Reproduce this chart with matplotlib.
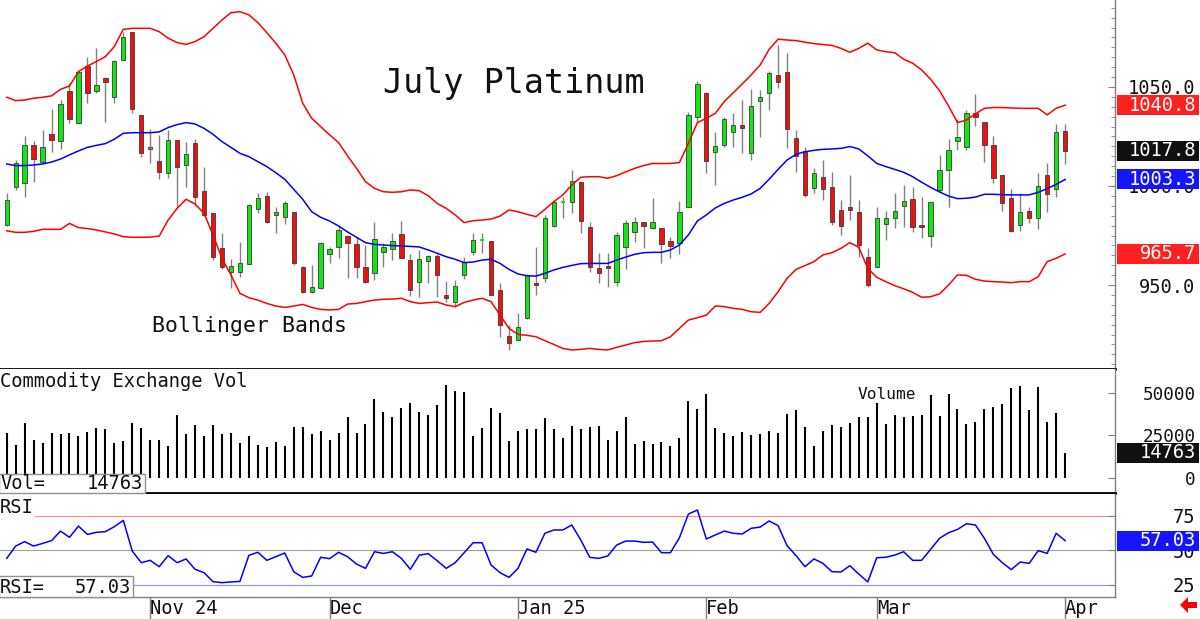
import numpy as np
import matplotlib
matplotlib.use("Agg")
import matplotlib.pyplot as plt
from matplotlib.patches import Rectangle, Polygon
from matplotlib.ticker import MultipleLocator, FixedLocator, FixedFormatter

# ---------------- data (daily, Oct 10 2024 .. Apr 1 2025) ----------------
opens = [980.3, 999.7, 1001.3, 1020.7, 1012.3, 1026.1, 1022.9, 1048.1, 1031.6, 1060.6,
         1048.1, 1054.5, 1045.1, 1063.6, 1077.6, 1035.9, 1018.9, 1012.5, 1006.4, 1023.2,
         1010.6, 1021.5, 997.6, 986.2, 968.9, 956.4, 956.7, 960.6, 988.2, 995.1,
         985.4, 984.2, 986.7, 959.3, 946.3, 948.3, 965.7, 969.4, 974.7, 970.5,
         959.3, 955.9, 966.5, 968.0, 975.6, 962.6, 951.7, 962.3, 964.6, 944.8,
         941.2, 954.9, 966.8, 972.7, 972.2, 947.5, 924.2, 922.2, 933.2, 950.8,
         953.4, 979.8, 992.1, 991.8, 1001.9, 979.5, 958.4, 959.6, 951.7, 969.4,
         976.9, 981.6, 978.6, 978.6, 972.4, 971.0, 989.6, 1035.0, 1046.8, 1017.0,
         1020.7, 1027.4, 1030.8, 1016.5, 1043.1, 1046.8, 1056.1, 1057.7, 1024.1, 1017.7,
         998.8, 1004.4, 999.3, 987.9, 989.2, 986.7, 964.0, 959.3, 980.8, 984.0,
         989.9, 993.3, 980.3, 974.9, 998.0, 1008.1, 1022.9, 1019.9, 1036.7, 1032.2,
         1020.7, 1005.6, 993.8, 980.3, 987.4, 983.7, 1005.6, 998.5, 1027.8]
highs = [996.6, 1013.1, 1025.3, 1022.9, 1028.3, 1038.7, 1043.4, 1051.9, 1058.6, 1065.3,
         1069.5, 1055.2, 1063.6, 1077.9, 1077.9, 1036.0, 1028.6, 1025.8, 1028.3, 1023.4,
         1022.4, 1023.7, 1009.8, 986.4, 976.4, 963.0, 971.9, 990.9, 996.6, 997.1,
         989.6, 992.4, 987.0, 959.8, 960.1, 971.5, 969.4, 980.3, 975.3, 974.4,
         970.2, 982.0, 971.0, 976.1, 982.5, 965.5, 967.7, 965.2, 965.7, 952.0,
         952.5, 964.0, 976.1, 976.4, 972.4, 950.8, 929.8, 935.7, 955.6, 969.1,
         985.4, 992.9, 994.6, 1008.1, 1002.0, 982.0, 966.3, 966.0, 976.9, 982.8,
         984.5, 982.0, 993.8, 978.6, 974.4, 992.4, 1037.5, 1053.2, 1047.6, 1027.4,
         1035.0, 1036.7, 1043.4, 1049.0, 1048.5, 1058.2, 1071.2, 1067.0, 1028.3, 1019.9,
         1008.9, 1013.1, 1006.9, 992.9, 1005.6, 992.9, 968.5, 989.6, 987.4, 996.3,
         1000.5, 999.3, 994.6, 991.8, 1015.7, 1023.6, 1033.7, 1038.4, 1046.5, 1032.2,
         1025.3, 1005.6, 998.3, 996.3, 989.6, 1006.7, 1011.8, 1031.3, 1031.3]
lows = [980.0, 998.0, 994.6, 1002.2, 1012.0, 1017.3, 1018.5, 1031.6, 1031.4, 1041.8,
        1047.1, 1032.5, 1041.8, 1063.4, 1036.7, 1014.8, 1011.4, 1003.4, 1003.9, 989.2,
        999.7, 990.4, 985.0, 962.6, 957.9, 948.3, 954.2, 960.4, 986.2, 981.5,
        976.4, 980.8, 960.0, 946.1, 946.0, 947.8, 960.9, 963.5, 953.4, 953.4,
        951.2, 952.6, 958.9, 962.6, 963.5, 944.4, 943.8, 950.8, 944.1, 941.6,
        938.7, 952.9, 965.2, 966.0, 944.8, 923.9, 917.2, 921.9, 933.0, 944.9,
        951.7, 979.5, 983.7, 986.2, 976.1, 956.7, 950.8, 949.2, 949.5, 957.9,
        971.9, 968.5, 978.5, 961.3, 963.5, 965.7, 989.5, 1032.0, 1006.4, 1000.5,
        1019.9, 1019.9, 1016.8, 1013.1, 1024.9, 1038.4, 1049.3, 1019.0, 1007.2, 994.3,
        996.3, 992.9, 980.3, 975.3, 982.8, 964.3, 949.2, 959.2, 972.7, 978.6,
        979.5, 977.0, 973.6, 969.1, 997.1, 989.6, 1018.2, 1018.2, 1030.3, 1012.3,
        1001.7, 987.5, 977.0, 977.4, 981.1, 978.1, 987.0, 994.6, 1010.9]
closes = [992.9, 1011.4, 1020.7, 1013.5, 1019.9, 1023.2, 1041.4, 1034.0, 1057.7, 1046.8,
          1051.0, 1052.7, 1063.1, 1075.1, 1038.7, 1016.5, 1019.9, 1007.2, 1023.2, 1009.4,
          1016.0, 994.6, 985.4, 964.0, 959.3, 959.8, 960.9, 990.4, 994.1, 982.0,
          986.7, 991.2, 960.9, 946.6, 949.2, 971.0, 968.0, 977.8, 971.0, 959.3,
          951.7, 973.0, 969.4, 972.4, 963.8, 947.5, 963.1, 964.6, 955.1, 943.6,
          949.7, 961.4, 972.7, 972.7, 944.9, 929.8, 920.5, 928.6, 955.1, 949.8,
          983.7, 992.1, 992.1, 1002.7, 982.5, 958.9, 956.2, 958.8, 975.1, 981.1,
          981.6, 980.0, 981.6, 970.7, 969.9, 987.0, 1035.9, 1051.5, 1012.6, 1020.4,
          1033.8, 1030.6, 1029.1, 1040.6, 1045.1, 1057.2, 1052.4, 1028.6, 1015.2, 995.5,
          1006.4, 998.5, 982.0, 980.0, 987.9, 970.2, 950.0, 983.7, 983.7, 987.5,
          992.4, 979.5, 979.1, 991.8, 1008.1, 1018.2, 1024.6, 1036.7, 1035.0, 1020.7,
          1003.9, 991.2, 977.3, 987.0, 984.0, 1000.2, 995.8, 1027.1, 1017.8]

bb_upper = [1044.8, 1043.1, 1043.4, 1044.3, 1044.8, 1045.5, 1048.8, 1050.5, 1057.7, 1060.6,
            1062.8, 1065.3, 1070.4, 1079.1, 1079.6, 1079.6, 1079.6, 1077.9, 1074.6, 1072.4,
            1071.5, 1072.9, 1075.4, 1079.6, 1083.8, 1087.5, 1088.0, 1086.4, 1082.5, 1077.4,
            1072.1, 1066.2, 1056.1, 1041.8, 1034.2, 1030.0, 1025.8, 1021.9, 1015.2, 1008.9,
            1002.2, 998.8, 997.1, 996.8, 997.1, 998.0, 997.6, 995.1, 991.2, 988.7,
            985.4, 981.5, 982.5, 982.8, 983.3, 984.8, 987.9, 987.0, 985.7, 984.5,
            988.2, 992.1, 995.5, 1000.5, 1004.4, 1004.7, 1004.7, 1003.9, 1005.2, 1007.1,
            1008.9, 1010.3, 1011.4, 1011.3, 1011.4, 1011.8, 1021.5, 1032.0, 1034.2, 1036.7,
            1042.6, 1047.1, 1051.5, 1056.1, 1061.1, 1069.0, 1074.1, 1073.7, 1073.4, 1072.6,
            1071.9, 1071.4, 1071.0, 1069.5, 1067.5, 1069.5, 1072.1, 1068.7, 1067.8, 1067.3,
            1064.0, 1062.0, 1058.6, 1053.9, 1048.1, 1040.4, 1032.0, 1033.3, 1036.4, 1039.2,
            1039.6, 1039.6, 1039.4, 1039.2, 1039.2, 1039.2, 1035.9, 1039.2, 1040.8]
bb_mid = [1011.1, 1010.3, 1010.3, 1010.6, 1011.1, 1012.1, 1013.6, 1015.7, 1017.7, 1019.5,
          1020.5, 1021.4, 1023.6, 1026.6, 1026.9, 1026.9, 1026.9, 1027.3, 1029.5, 1031.0,
          1032.0, 1031.3, 1029.1, 1026.1, 1022.4, 1019.5, 1016.5, 1014.8, 1012.3, 1009.8,
          1006.7, 1003.4, 998.3, 993.3, 987.0, 984.2, 982.3, 979.8, 976.8, 974.1,
          971.4, 970.5, 970.2, 969.9, 969.7, 969.5, 969.2, 967.7, 966.0, 964.3,
          963.0, 961.3, 961.6, 962.6, 963.0, 960.9, 957.9, 955.6, 954.7, 954.5,
          955.9, 957.6, 958.9, 959.9, 960.8, 960.9, 960.9, 960.9, 962.6, 964.1,
          965.5, 966.3, 966.5, 966.5, 967.7, 970.2, 975.3, 982.3, 985.4, 988.9,
          991.2, 992.9, 994.3, 996.0, 998.8, 1003.4, 1008.4, 1013.1, 1016.0, 1017.3,
          1018.0, 1018.5, 1018.7, 1019.0, 1019.9, 1018.7, 1015.2, 1011.4, 1009.8, 1008.4,
          1006.9, 1004.7, 1001.9, 999.3, 997.0, 994.9, 993.6, 993.8, 994.4, 995.8,
          995.8, 995.6, 995.5, 995.5, 995.5, 996.8, 998.7, 1000.8, 1003.3]
bb_lower = [977.4, 976.6, 976.6, 977.1, 978.1, 978.1, 978.1, 981.1, 979.0, 978.5,
            977.8, 976.8, 975.8, 974.4, 974.1, 974.1, 974.2, 974.7, 982.8, 988.7,
            993.3, 990.9, 986.2, 975.3, 963.5, 955.1, 945.8, 943.6, 942.4, 940.7,
            939.4, 938.7, 939.4, 940.2, 938.7, 937.7, 937.4, 937.7, 940.4, 940.7,
            941.6, 942.4, 942.8, 942.9, 943.3, 941.6, 940.7, 941.1, 941.4, 939.9,
            939.1, 941.2, 942.4, 943.3, 941.6, 934.8, 928.1, 925.1, 924.6, 923.9,
            921.9, 920.0, 918.0, 917.2, 917.5, 918.0, 917.5, 917.2, 918.5, 919.7,
            920.9, 921.5, 921.7, 921.9, 923.9, 928.1, 932.3, 933.5, 934.8, 939.4,
            939.1, 938.2, 937.7, 936.5, 936.2, 940.7, 946.6, 953.4, 957.9, 959.8,
            961.8, 965.2, 966.3, 968.5, 971.4, 969.0, 958.4, 953.9, 951.7, 949.7,
            948.1, 946.3, 943.8, 944.1, 945.5, 950.0, 955.1, 954.9, 952.9, 952.0,
            951.7, 951.5, 951.2, 951.7, 951.7, 954.2, 961.8, 963.5, 965.7]

volume = [26660, 19460, 32500, 22380, 20430, 26660, 25880, 26270, 24710, 27240,
          29190, 28600, 20430, 21400, 32500, 29580, 22380, 21990, 18490, 36970,
          25690, 31140, 24710, 31140, 25880, 26660, 20430, 24710, 19460, 18100,
          20820, 18490, 30160, 29770, 25690, 27630, 21990, 26270, 35610, 26270,
          31530, 46310, 38920, 35610, 41260, 43790, 38920, 36970, 42810, 54490,
          51180, 50210, 24710, 29580, 41260, 38340, 21400, 27630, 28600, 28800,
          35030, 28800, 23350, 30750, 28600, 29770, 30750, 22380, 27630, 36000,
          20040, 21400, 20040, 20820, 18490, 23740, 45150, 40480, 49040, 29190,
          26660, 24330, 27240, 25300, 25880, 27630, 26270, 37560, 39890, 30160,
          18880, 27630, 31140, 29970, 32500, 35610, 36000, 43790, 31530, 36970,
          35610, 36580, 36970, 48460, 36580, 49040, 40480, 31530, 33080, 40480,
          41450, 43400, 52540, 54100, 39890, 53130, 33080, 38340, 14763]

rsi = [44.2, 53.1, 56.3, 53.1, 55.0, 57.0, 63.9, 59.4, 67.5, 61.5,
       63.0, 63.5, 67.1, 71.6, 49.5, 41.1, 42.8, 38.2, 46.2, 41.1,
       43.8, 36.3, 33.9, 27.4, 26.7, 27.2, 27.6, 46.4, 48.6, 42.8,
       45.4, 48.1, 34.6, 30.5, 31.5, 45.0, 44.0, 48.6, 45.4, 40.1,
       37.0, 49.0, 47.8, 49.0, 44.2, 36.3, 46.6, 47.6, 42.5, 37.0,
       41.1, 48.3, 55.5, 55.5, 39.4, 33.9, 30.5, 37.0, 51.0, 48.6,
       62.3, 64.7, 64.7, 68.3, 57.5, 45.0, 44.2, 45.9, 53.8, 56.7,
       56.7, 55.8, 56.0, 48.3, 48.3, 59.1, 76.2, 79.1, 58.2, 61.1,
       63.9, 62.3, 61.8, 65.9, 66.8, 71.2, 67.8, 53.4, 46.2, 38.2,
       43.8, 40.6, 34.6, 34.4, 38.9, 32.9, 27.2, 44.7, 45.0, 46.6,
       49.0, 42.8, 42.8, 50.7, 58.7, 62.7, 65.1, 69.2, 68.3, 58.7,
       47.1, 41.1, 36.1, 41.6, 40.6, 49.8, 47.8, 62.3, 57.03]

month_idx = [16, 36, 57, 78, 97, 118]
month_labels = ["Nov 24", "Dec", "Jan 25", "Feb", "Mar", "Apr"]

price_ticks = [950.0, 1000.0, 1050.0]
vol_ticks = [0, 25000, 50000]
rsi_ticks = [25, 50, 75]

# ---------------- figure ----------------
W, H = 1200, 619
MONO = "DejaVu Sans Mono"
plt.rcParams['font.family'] = [MONO, 'DejaVu Sans']
fig = plt.figure(figsize=(W / 100, H / 100), dpi=100)
fig.patch.set_facecolor('white')

axw = 1115 / W
ax1 = fig.add_axes([0, 1 - 369 / H, axw, 369 / H])
ax2 = fig.add_axes([0, 1 - 493 / H, axw, 124 / H])
ax3 = fig.add_axes([0, 1 - 597 / H, axw, 103 / H])

GREEN = '#11e611'
RED = '#f01010'
SPINE = '#808080'
FS = 13.5
FS_AX = 12.7

xlim = (-0.747, 123.56)
for ax in (ax1, ax2, ax3):
    ax.set_xlim(*xlim)
    ax.set_facecolor('white')
    for s in ('left', 'top'):
        ax.spines[s].set_visible(False)
    ax.spines['right'].set_color(SPINE)
    ax.spines['right'].set_linewidth(1)
    ax.yaxis.tick_right()
    ax.tick_params(axis='y', which='both', direction='in', colors=SPINE,
                   labelcolor='#111111', labelsize=FS, pad=58)
    ax.tick_params(axis='y', which='major', length=5)
    ax.tick_params(axis='y', which='minor', length=3)
ax2.tick_params(axis='y', labelsize=FS_AX)

# ---- price panel ----
o = np.array(opens); h = np.array(highs); l = np.array(lows); c = np.array(closes)
x = np.arange(len(c))
ax1.vlines(x, l, h, color='#808080', lw=1, zorder=2)
doji = np.abs(c - o) < 0.3
up = (c >= o) & ~doji
dn = (c < o) & ~doji
bw = 0.48
ax1.bar(x[up], (c - o)[up], bottom=o[up], width=bw, color=GREEN,
        edgecolor='#3a3a3a', lw=0.6, zorder=3)
ax1.bar(x[dn], (c - o)[dn], bottom=o[dn], width=bw, color=RED,
        edgecolor='#3a3a3a', lw=0.6, zorder=3)
ax1.hlines(c[doji], x[doji] - bw / 2, x[doji] + bw / 2, color=GREEN, lw=1.5, zorder=3)

ax1.plot(np.arange(len(bb_upper)), bb_upper, color='#ff0000', lw=1.1, zorder=4)
ax1.plot(np.arange(len(bb_lower)), bb_lower, color='#ff0000', lw=1.1, zorder=4)
ax1.plot(np.arange(len(bb_mid)), bb_mid, color='#0000ff', lw=1.1, zorder=4)

ax1.set_ylim(907.6, 1093.9)
ax1.yaxis.set_major_locator(FixedLocator(price_ticks))
ax1.yaxis.set_major_formatter(FixedFormatter([f"{v:.1f}" for v in price_ticks]))
ax1.yaxis.set_minor_locator(MultipleLocator(5))
ax1.spines['bottom'].set_color('black')
ax1.spines['bottom'].set_linewidth(2)
ax1.set_xticks([])

# ---- volume panel ----
ax2.vlines(np.arange(len(volume)), 0, volume, color='black', lw=1.5)
ax2.set_ylim(-8790, 63890)
ax2.yaxis.set_major_locator(FixedLocator(vol_ticks))
ax2.yaxis.set_major_formatter(FixedFormatter([str(v) for v in vol_ticks]))
ax2.spines['bottom'].set_color('black')
ax2.spines['bottom'].set_linewidth(2)
ax2.set_xticks([])

# ---- RSI panel ----
ax3.axhline(75, color='#ff8c8c', lw=0.8, zorder=1)
ax3.axhline(50, color='#a0a0a0', lw=0.8, zorder=1)
ax3.axhline(25, color='#8c8cff', lw=0.8, zorder=1)
ax3.plot(np.arange(len(rsi)), rsi, color='#0000ff', lw=1.1, zorder=3)
ax3.set_ylim(16.34, 90.66)
ax3.yaxis.set_major_locator(FixedLocator(rsi_ticks))
ax3.yaxis.set_major_formatter(FixedFormatter([str(v) for v in rsi_ticks]))
ax3.spines['bottom'].set_color(SPINE)
ax3.spines['bottom'].set_linewidth(1)
ax3.set_xticks(month_idx)
ax3.set_xticklabels(month_labels, ha='left')
ax3.tick_params(axis='x', direction='out', length=16, width=1, colors=SPINE,
                labelcolor='#111111', labelsize=FS, pad=-14.5)

for ax in (ax1, ax2, ax3):
    for lab in ax.get_yticklabels():
        lab.set_horizontalalignment('right')

# ---- value boxes on the right ----
inv = fig.transFigure.inverted()

def value_box(ax, val, label, color):
    yf = inv.transform(ax.transData.transform((0, val)))[1]
    fig.add_artist(Rectangle((1117 / W, yf - 10 / H), 82 / W, 20 / H,
                             transform=fig.transFigure, facecolor=color,
                             edgecolor='none', zorder=5))
    fig.text(1196 / W, yf, label, ha='right', va='center', color='white',
             fontsize=FS, family=MONO, zorder=6)

value_box(ax1, bb_upper[-1], f"{bb_upper[-1]:.1f}", '#ff2020')
value_box(ax1, closes[-1], f"{closes[-1]:.1f}", '#111111')
value_box(ax1, bb_mid[-1], f"{bb_mid[-1]:.1f}", '#1515ff')
value_box(ax1, bb_lower[-1], f"{bb_lower[-1]:.1f}", '#ff2020')
value_box(ax2, volume[-1], f"{volume[-1]}", '#111111')
value_box(ax3, rsi[-1], f"{rsi[-1]:.2f}", '#1515ff')

# ---- left-side readout boxes ----
def readout(y_top, y_bot, right, name, val):
    fig.add_artist(Rectangle((-1 / W, 1 - y_bot / H), (right + 1) / W, (y_bot - y_top) / H,
                             transform=fig.transFigure, facecolor='white',
                             edgecolor='#909090', lw=1, zorder=5))
    yb = 1 - (y_bot - 4) / H
    fig.text(0 / W, yb, name, ha='left', va='baseline', fontsize=FS, color='#111111', zorder=6)
    fig.text((right - 2) / W, yb, val, ha='right', va='baseline', fontsize=FS,
             color='#111111', zorder=6)

readout(474, 493, 145, "Vol=", f"{volume[-1]}")
readout(576, 597, 133, "RSI=", f"{rsi[-1]:.2f}")

# ---- titles / labels ----
fig.text(383 / W, 1 - 93 / H, "July Platinum", fontsize=24, family=MONO,
         color='#111111', ha='left', va='baseline')
fig.text(152 / W, 1 - 332 / H, "Bollinger Bands", fontsize=15.5, family=MONO,
         color='#111111', ha='left', va='baseline')
fig.text(0, 1 - 387 / H, "Commodity Exchange Vol", fontsize=FS, family=MONO,
         color='#111111', ha='left', va='baseline')
fig.text(858 / W, 1 - 399 / H, "Volume", fontsize=11.6, family=MONO,
         color='#111111', ha='left', va='baseline')
fig.text(0, 1 - 513 / H, "RSI", fontsize=FS, family=MONO,
         color='#111111', ha='left', va='baseline',
         bbox=dict(facecolor='white', edgecolor='none', pad=1))

# ---- red arrow bottom-right ----
arrow_pts = np.array([(1180, 14), (1188, 22), (1188, 17), (1197, 17),
                      (1197, 11), (1188, 11), (1188, 6)]) / 100.0
fig.add_artist(Polygon(arrow_pts, closed=True, transform=fig.dpi_scale_trans,
                       facecolor='#ff0000', edgecolor='none', zorder=6))

fig.savefig("out.png", dpi=100)
